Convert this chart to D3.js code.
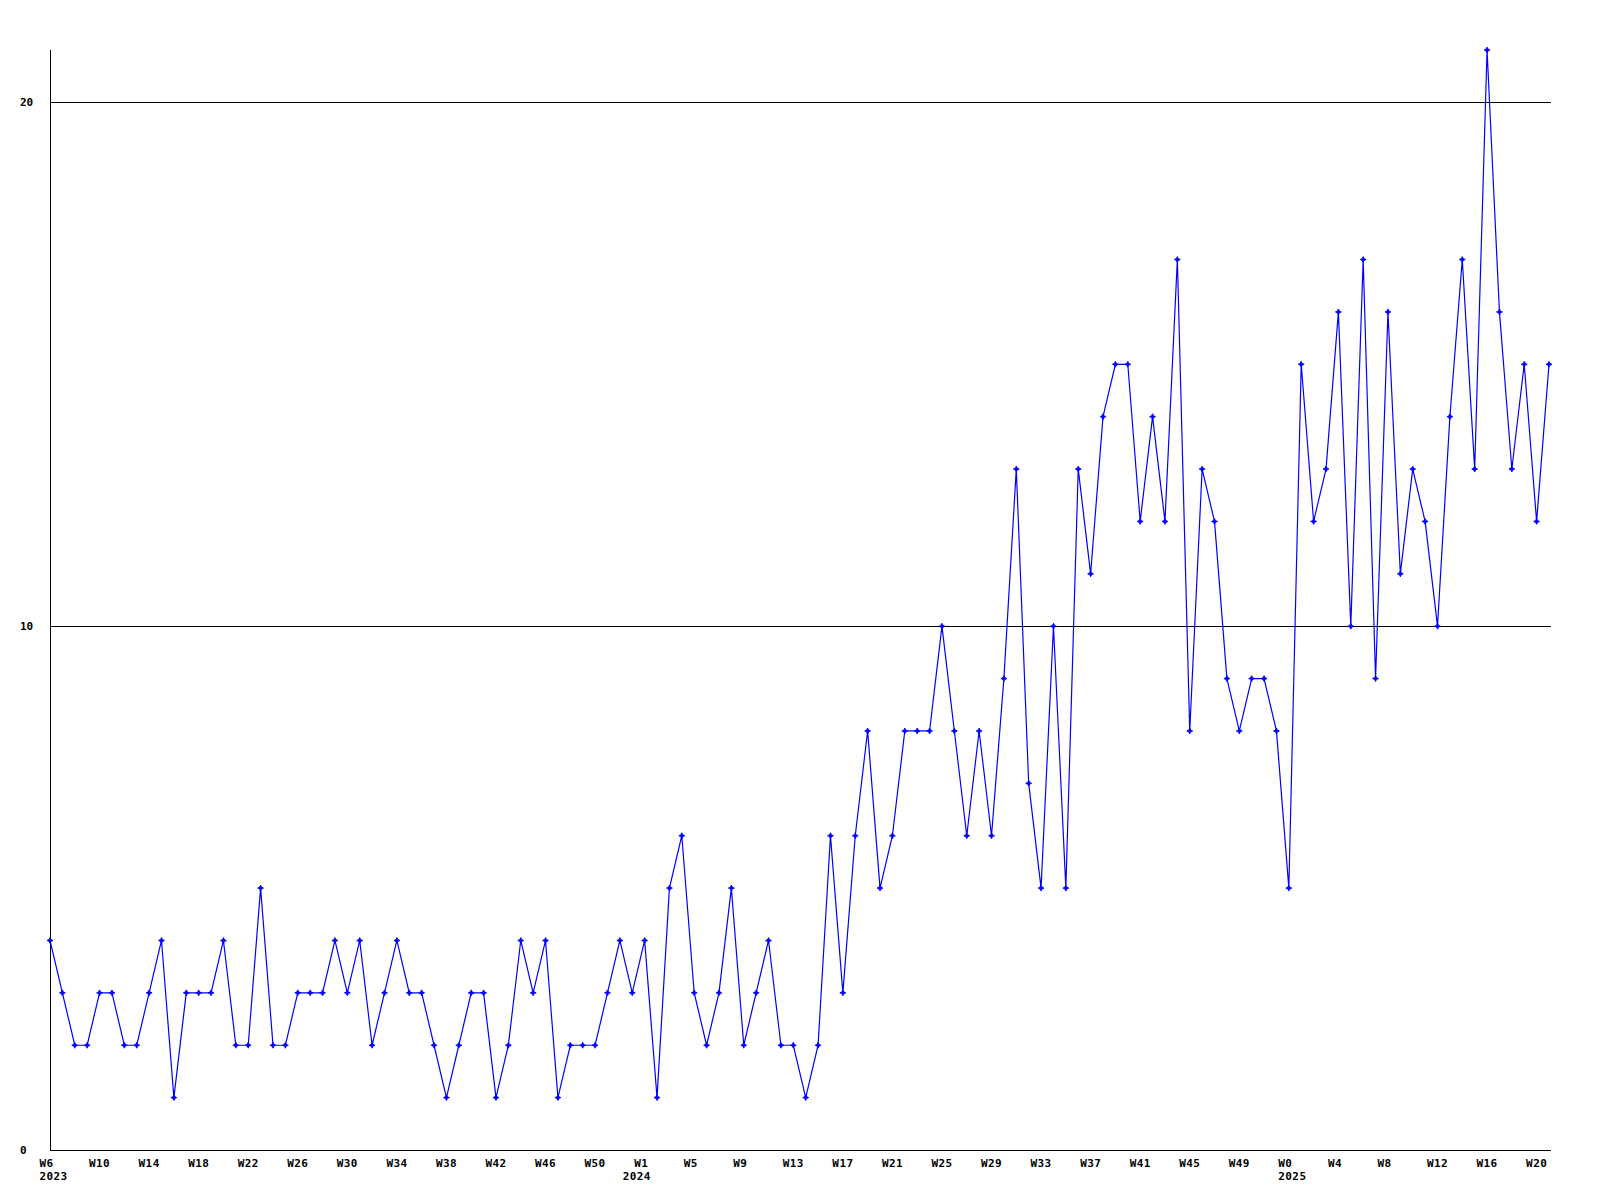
<!DOCTYPE html>
<html>
<head>
<meta charset="utf-8">
<script src="https://cdn.jsdelivr.net/npm/d3@7"></script>
<style>
  html, body { margin: 0; padding: 0; background: #fff; }
  svg { display: block; }
  text { font-family: "DejaVu Sans Mono", "Liberation Mono", monospace; font-weight: bold; font-size: 11px; fill: #000; }
</style>
</head>
<body>
<svg id="chart" width="1600" height="1200"></svg>
<script>
// ---- data ----
const values = [
  4,3,2,2,3,3,2,2,3,4,
  1,3,3,3,4,2,2,5,2,2,
  3,3,3,4,3,4,2,3,4,3,
  3,2,1,2,3,3,1,2,4,3,
  4,1,2,2,2,3,4,3,4,1,
  5,6,3,2,3,5,2,3,4,2,
  2,1,2,6,3,6,8,5,6,8,
  8,8,10,8,6,8,6,9,13,7,
  5,10,5,13,11,14,15,15,12,14,
  12,17,8,13,12,9,8,9,9,8,
  5,15,12,13,16,10,17,9,16,11,
  13,12,10,14,17,13,21,16,13,15,
  12,15
];
const weekLabels = [
  "W6","W10","W14","W18","W22","W26","W30","W34","W38","W42","W46","W50",
  "W1","W5","W9","W13","W17","W21","W25","W29","W33","W37","W41","W45","W49",
  "W0","W4","W8","W12","W16","W20"
];
const labelStep = 4;
const yearLabels = ["2023", "2024", "2025"];
const yearIndex = [0, 48, 100];
const yTicks = [0, 10, 20];

(function () {
  // ---- layout ----
  const svg = d3.select("#chart");
  const mLeft = 50, mRight = 1549, axisRight = 1551, mTop = 50, mBottom = 1150;

  const x = d3.scaleLinear().domain([0, values.length - 1]).range([mLeft, mRight]);
  const y = d3.scaleLinear().domain([0, 21]).range([mBottom, mTop]);

  // grid lines
  svg.append("g").selectAll("line")
    .data(yTicks.filter(d => d > 0))
    .join("line")
    .attr("x1", mLeft).attr("x2", axisRight)
    .attr("y1", d => Math.round(y(d)) + 0.5).attr("y2", d => Math.round(y(d)) + 0.5)
    .attr("stroke", "#000").attr("stroke-width", 1);

  // axis lines
  svg.append("line")
    .attr("x1", mLeft + 0.5).attr("x2", mLeft + 0.5)
    .attr("y1", mTop).attr("y2", mBottom)
    .attr("stroke", "#000");
  svg.append("line")
    .attr("x1", mLeft).attr("x2", axisRight)
    .attr("y1", mBottom + 0.5).attr("y2", mBottom + 0.5)
    .attr("stroke", "#000");

  // y labels
  svg.append("g").selectAll("text")
    .data(yTicks)
    .join("text")
    .attr("x", 20)
    .attr("y", d => y(d) + 4)
    .text(d => d);

  // x labels
  svg.append("g").selectAll("text")
    .data(weekLabels)
    .join("text")
    .attr("x", (d, i) => x(i * labelStep) - 10.5)
    .attr("y", 1167)
    .attr("letter-spacing", "0.4")
    .text(d => d);

  svg.append("g").selectAll("text")
    .data(yearLabels)
    .join("text")
    .attr("x", (d, i) => x(yearIndex[i]) - (i === 1 ? 22 : 10.5))
    .attr("y", 1180)
    .attr("letter-spacing", "0.4")
    .text(d => d);

  // line
  const line = d3.line().x((d, i) => x(i)).y(d => y(d));
  svg.append("path")
    .datum(values)
    .attr("d", line)
    .attr("fill", "none")
    .attr("stroke", "#0000ff")
    .attr("stroke-width", 1.2);

  // markers
  const marker = "M0,-3L1,-1L3,0L1,1L0,3L-1,1L-3,0L-1,-1Z";
  svg.append("g").selectAll("path")
    .data(values)
    .join("path")
    .attr("transform", (d, i) => `translate(${x(i)},${y(d)})`)
    .attr("d", marker)
    .attr("fill", "#0000ff")
    .attr("stroke", "#0000ff")
    .attr("stroke-width", 0.8);
})();
</script>
</body>
</html>
